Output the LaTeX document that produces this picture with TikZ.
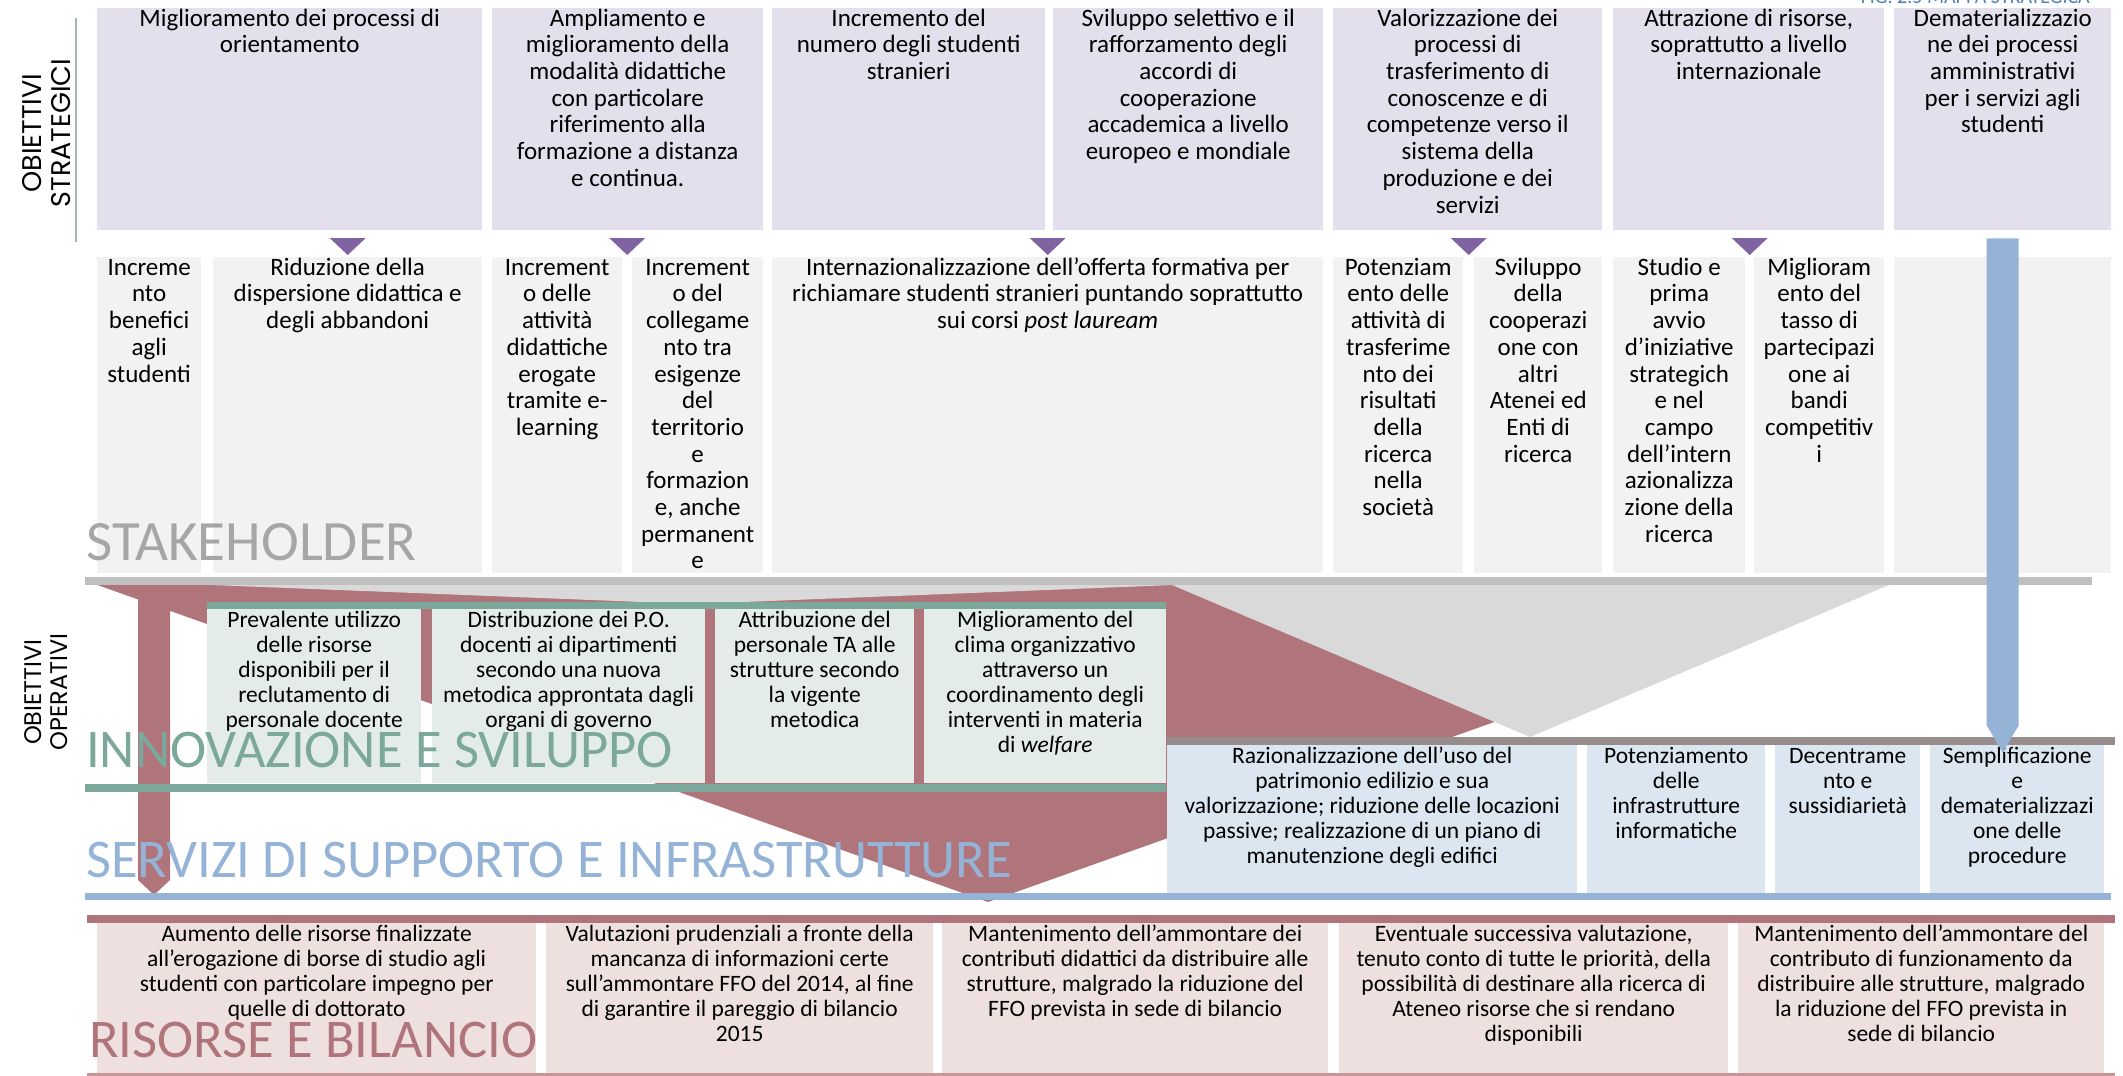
\documentclass[tikz,border=0pt]{standalone}
\usepackage{fontspec}
\setmainfont{Carlito}
\newfontfamily\sidefont{Poppins}
\usepackage{tikz}
\usetikzlibrary{calc}

\definecolor{stratfill}{HTML}{E4DFEC}
\definecolor{stakefill}{HTML}{F2F2F2}
\definecolor{innofill}{HTML}{E3ECE9}
\definecolor{servfill}{HTML}{DCE6F1}
\definecolor{resfill}{HTML}{EFE0E0}
\definecolor{redtone}{HTML}{B0747B}
\definecolor{graybar}{HTML}{BFBFBF}
\definecolor{grayshade}{HTML}{D9D9D9}
\definecolor{greenbar}{HTML}{7BA89A}
\definecolor{taupebar}{HTML}{968C8C}
\definecolor{bluebar}{HTML}{95B3D7}
\definecolor{pointcolor}{HTML}{8064A2}
\definecolor{stakegray}{HTML}{A6A6A6}
\definecolor{capblue}{HTML}{4F7FB0}
\definecolor{sideline}{HTML}{9DBDB2}
\definecolor{resline}{HTML}{C9959A}

\newcommand{\cellpar}[3]{\parbox[t][#2pt][t]{#1pt}{\centering\rule{0pt}{18pt}#3}}

\begin{document}
\begin{tikzpicture}[x=1pt, y=-1pt,
	cell/.style={inner sep=0pt, anchor=north west},
	strat/.style={cell, fill=stratfill, font=\fontsize{25}{26.7}\selectfont},
	stake/.style={cell, fill=stakefill, font=\fontsize{25}{26.7}\selectfont},
	inno/.style={cell, fill=innofill, font=\fontsize{23.5}{25}\selectfont},
	serv/.style={cell, fill=servfill, font=\fontsize{23.5}{25}\selectfont},
	res/.style={cell, fill=resfill, font=\fontsize{23.5}{25}\selectfont},
	band/.style={inner sep=0pt, anchor=base west, font=\fontsize{54.5}{55}\selectfont},
	side/.style={rotate=90, align=center, inner sep=0pt},
	pointer/.style={fill=pointcolor}]
	\useasboundingbox (0,0) rectangle (2123,1076);

	% shapes behind the rows
	\fill [redtone] (89,582) -- (1888,582) -- (988,902) -- cycle;
	\fill [redtone] (138,582) -- (170,582) -- (170,880) -- (154,895) -- (138,880) -- cycle;
	\fill [graybar] (85,577) rectangle (2092,585);
	\fill [grayshade] (212,585) -- (1173,585) -- (693,604) -- cycle;
	\fill [grayshade] (1172,585) -- (1889,585) -- (1530,737) -- cycle;

	\node [strat] (o1) at (97,8) {\cellpar{385}{222}{Miglioramento dei processi di\\orientamento}};
	\node [strat] (o2) at (492,8) {\cellpar{271}{222}{Ampliamento e\\miglioramento della\\modalità didattiche\\con particolare\\riferimento alla\\formazione a distanza\\e continua.}};
	\node [strat] (o3) at (772,8) {\cellpar{273}{222}{Incremento del\\numero degli studenti\\stranieri}};
	\node [strat] (o4) at (1053,8) {\cellpar{270}{222}{Sviluppo selettivo e il\\rafforzamento degli\\accordi di\\cooperazione\\accademica a livello\\europeo e mondiale}};
	\node [strat] (o5) at (1333,8) {\cellpar{269}{222}{Valorizzazione dei\\processi di\\trasferimento di\\conoscenze e di\\competenze verso il\\sistema della\\produzione e dei\\servizi}};
	\node [strat] (o6) at (1613,8) {\cellpar{271}{222}{Attrazione di risorse,\\soprattutto a livello\\internazionale}};
	\node [strat] (o7) at (1894,8) {\cellpar{217}{222}{Dematerializzazio\\ne dei processi\\amministrativi\\per i servizi agli\\studenti}};

	\node [stake] (s1) at (97,257) {\cellpar{104}{316}{Increme\\nto\\benefici\\agli\\studenti}};
	\node [stake] (s2) at (213,257) {\cellpar{269}{316}{Riduzione della\\dispersione didattica e\\degli abbandoni}};
	\node [stake] (s3) at (492,257) {\cellpar{130}{316}{Increment\\o delle\\attività\\didattiche\\erogate\\tramite e-\\learning}};
	\node [stake] (s4) at (632,257) {\cellpar{131}{316}{Increment\\o del\\collegame\\nto tra\\esigenze\\del\\territorio\\e\\formazion\\e, anche\\permanent\\e}};
	\node [stake] (s5) at (772,257) {\cellpar{551}{316}{Internazionalizzazione dell’offerta formativa per\\richiamare studenti stranieri puntando soprattutto\\sui corsi \textit{post lauream}}};
	\node [stake] (s6) at (1333,257) {\cellpar{130}{316}{Potenziam\\ento delle\\attività di\\trasferime\\nto dei\\risultati\\della\\ricerca\\nella\\società}};
	\node [stake] (s7) at (1474,257) {\cellpar{128}{316}{Sviluppo\\della\\cooperazi\\one con\\altri\\Atenei ed\\Enti di\\ricerca}};
	\node [stake] (s8) at (1613,257) {\cellpar{132}{316}{Studio e\\prima\\avvio\\d’iniziative\\strategich\\e nel\\campo\\dell’intern\\azionalizza\\zione della\\ricerca}};
	\node [stake] (s9) at (1754,257) {\cellpar{130}{316}{Miglioram\\ento del\\tasso di\\partecipazi\\one ai\\bandi\\competitiv\\i}};
	\node [stake] (s10) at (1894,257) {\cellpar{217}{316}{}};

	\coordinate (t1) at (s2.north);
	\coordinate (t2) at ($(s3.north east)!0.5!(s4.north west)$);
	\coordinate (t3) at (s5.north);
	\coordinate (t4) at ($(s6.north east)!0.5!(s7.north west)$);
	\coordinate (t5) at ($(s8.north east)!0.5!(s9.north west)$);
	\foreach \t in {t1,t2,t3,t4,t5}
		\fill [pointer] (\t) ++(-18,-19) -- ++(36,0) -- ++(-18,17) -- cycle;

	\node [band, text=stakegray, font=\fontsize{57}{57}\selectfont] (lstake) at (86,560) {STAKEHOLDER};

	\fill [greenbar] (207,602) rectangle (1166,609);
	\node [inno] (i1) at (207,609) {\cellpar{214}{174}{Prevalente utilizzo\\delle risorse\\disponibili per il\\reclutamento di\\personale docente}};
	\node [inno] (i2) at (432,609) {\cellpar{273}{174}{Distribuzione dei P.O.\\docenti ai dipartimenti\\secondo una nuova\\metodica approntata dagli\\organi di governo}};
	\node [inno] (i3) at (715,609) {\cellpar{199}{174}{Attribuzione del\\personale TA alle\\strutture secondo\\la vigente\\metodica}};
	\node [inno] (i4) at (924,609) {\cellpar{242}{174}{Miglioramento del\\clima organizzativo\\attraverso un\\coordinamento degli\\interventi in materia\\di \textit{welfare}}};
	\fill [greenbar] (85,784) rectangle (1166,792);
	\node [band, text=greenbar] (linno) at (86,767) {INNOVAZIONE E SVILUPPO};

	\fill [taupebar] (1167,737) rectangle (2115,745);
	\node [serv] (v1) at (1167,745) {\cellpar{410}{148}{Razionalizzazione dell’uso del\\patrimonio edilizio e sua\\valorizzazione; riduzione delle locazioni\\passive; realizzazione di un piano di\\manutenzione degli edifici}};
	\node [serv] (v2) at (1587,745) {\cellpar{178}{148}{Potenziamento\\delle\\infrastrutture\\informatiche}};
	\node [serv] (v3) at (1775,745) {\cellpar{145}{148}{Decentrame\\nto e\\sussidiarietà}};
	\node [serv] (v4) at (1930,745) {\cellpar{174}{148}{Semplificazione\\e\\dematerializzazi\\one delle\\procedure}};
	\fill [bluebar] (85,893) rectangle (2111,900);
	\node [band, text=bluebar] (lserv) at (86,877) {SERVIZI DI SUPPORTO E INFRASTRUTTURE};

	\coordinate (b0) at (o7.south);
	\fill [bluebar] (b0) ++(-16,8) -- ++(32,0) -- ++(0,487) -- ++(-16,27) -- ++(-16,-27) -- cycle;

	\fill [redtone] (87,915) rectangle (2115,923);
	\node [res] (r1) at (97,923) {\cellpar{439}{150}{Aumento delle risorse finalizzate\\all’erogazione di borse di studio agli\\studenti con particolare impegno per\\quelle di dottorato}};
	\node [res] (r2) at (546,923) {\cellpar{387}{150}{Valutazioni prudenziali a fronte della\\mancanza di informazioni certe\\sull’ammontare FFO del 2014, al fine\\di garantire il pareggio di bilancio\\2015}};
	\node [res] (r3) at (942,923) {\cellpar{386}{150}{Mantenimento dell’ammontare dei\\contributi didattici da distribuire alle\\strutture, malgrado la riduzione del\\FFO prevista in sede di bilancio}};
	\node [res] (r4) at (1339,923) {\cellpar{389}{150}{Eventuale successiva valutazione,\\tenuto conto di tutte le priorità, della\\possibilità di destinare alla ricerca di\\Ateneo risorse che si rendano\\disponibili}};
	\node [res] (r5) at (1738,923) {\cellpar{366}{150}{Mantenimento dell’ammontare del\\contributo di funzionamento da\\distribuire alle strutture, malgrado\\la riduzione del FFO prevista in\\sede di bilancio}};
	\fill [resline] (87,1073) rectangle (2115,1076);
	\node [band, text=redtone] (lres) at (89,1057) {RISORSE E BILANCIO};

	\draw [line width=1.5pt, sideline] (76,18) -- (76,242);
	\node [side, font=\sidefont\fontsize{27}{29}\selectfont] (lstrat) at (47,133) {OBIETTIVI\\STRATEGICI};
	\node [side, font=\sidefont\fontsize{24}{26}\selectfont] (loper) at (46,692) {OBIETTIVI\\OPERATIVI};
	\node [anchor=base east, inner sep=0pt, text=capblue, font=\fontsize{20}{20}\selectfont] (cap) at (2090,3) {FIG. 2.5 MAPPA STRATEGICA};
\end{tikzpicture}
\end{document}
